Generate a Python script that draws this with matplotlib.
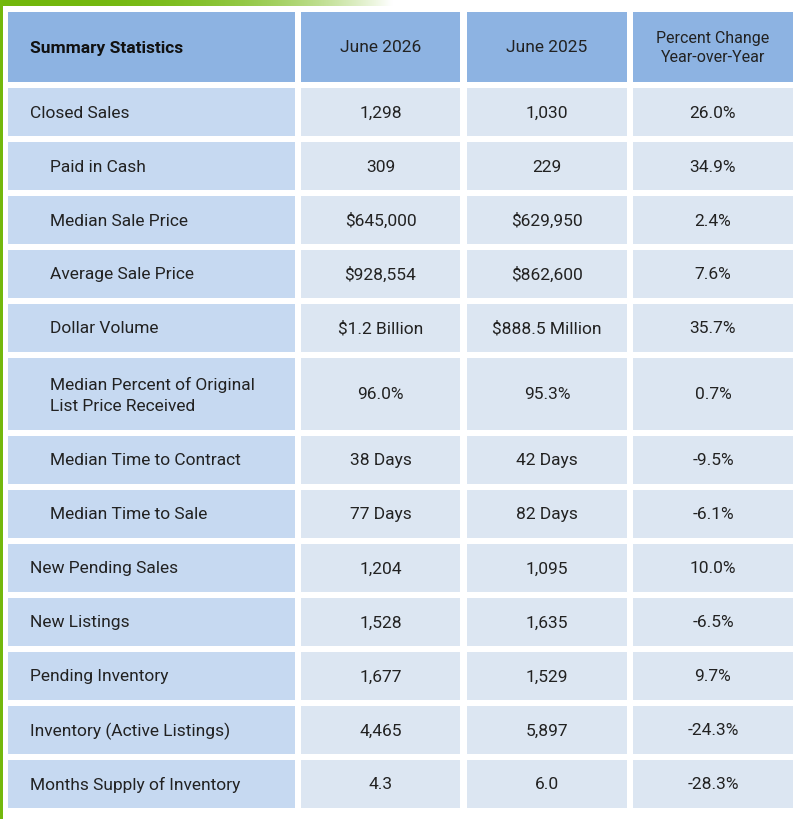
import numpy as np
import matplotlib.pyplot as plt
from matplotlib.patches import Rectangle

header = ['Summary Statistics', 'June 2026', 'June 2025', 'Percent Change\nYear-over-Year']
labels = ['Closed Sales', 'Paid in Cash', 'Median Sale Price', 'Average Sale Price',
          'Dollar Volume', 'Median Percent of Original\nList Price Received',
          'Median Time to Contract', 'Median Time to Sale', 'New Pending Sales',
          'New Listings', 'Pending Inventory', 'Inventory (Active Listings)',
          'Months Supply of Inventory']
indent = [0, 1, 1, 1, 1, 1, 1, 1, 0, 0, 0, 0, 0]
june_2026 = ['1,298', '309', '$645,000', '$928,554', '$1.2 Billion', '96.0%', '38 Days',
             '77 Days', '1,204', '1,528', '1,677', '4,465', '4.3']
june_2025 = ['1,030', '229', '$629,950', '$862,600', '$888.5 Million', '95.3%', '42 Days',
             '82 Days', '1,095', '1,635', '1,529', '5,897', '6.0']
pct_change = ['26.0%', '34.9%', '2.4%', '7.6%', '35.7%', '0.7%', '-9.5%', '-6.1%',
              '10.0%', '-6.5%', '9.7%', '-24.3%', '-28.3%']

W, H = 804, 820
fig = plt.figure(figsize=(W / 100, H / 100), dpi=100)
ax = fig.add_axes([0, 0, 1, 1])
ax.set_xlim(0, W)
ax.set_ylim(H, 0)
ax.axis('off')
plt.rcParams['font.family'] = ['Roboto', 'DejaVu Sans']

# green gradient bar at top and left edge
grad = np.linspace(0, 1, 256)[None, :]
green = np.array([0.45, 0.72, 0.05])
img = np.ones((1, 256, 3)) * (1 - grad[..., None]) * green + grad[..., None] * np.array([1, 1, 1])
img[:, :, :] = np.where(grad[..., None] < 0.7, green + (1 - green) * (grad[..., None] / 0.7) ** 3, 1)
ax.imshow(img, extent=[0, 560, 7, 0], aspect='auto', zorder=0)
ax.add_patch(Rectangle((0, 0), 3, 820, color=green, lw=0))

cols = [(8, 295), (301, 460), (467, 627), (633, 793)]
header_y = (13, 83)
row_h = [48] * 13
row_h[5] = 72
gap = 6
c_head = '#8DB3E2'
c_first = '#C6D9F1'
c_body = '#DCE6F2'
txt = '#222222'
fs = 12.5

for j, (x0, x1) in enumerate(cols):
    ax.add_patch(Rectangle((x0, header_y[0]), x1 - x0, header_y[1] - header_y[0], color=c_head, lw=0))
    ym = (header_y[0] + header_y[1]) / 2
    if j == 0:
        ax.text(x0 + 22, ym, header[j], fontsize=fs, fontweight='bold', va='center', ha='left', color='#111111')
    else:
        ax.text((x0 + x1) / 2, ym, header[j], fontsize=fs if j < 3 else 11.5, va='center', ha='center',
                color=txt, linespacing=1.3)

y = header_y[1] + gap
for i in range(len(labels)):
    h = row_h[i]
    ym = y + h / 2
    for j, (x0, x1) in enumerate(cols):
        ax.add_patch(Rectangle((x0, y), x1 - x0, h, color=c_first if j == 0 else c_body, lw=0))
    ax.text(cols[0][0] + 22 + 20 * indent[i], ym, labels[i], fontsize=fs, va='center', ha='left',
            color=txt, linespacing=1.5)
    for j, vals in enumerate([june_2026, june_2025, pct_change], start=1):
        x0, x1 = cols[j]
        ax.text((x0 + x1) / 2, ym, vals[i], fontsize=fs, va='center', ha='center', color=txt)
    y += h + gap

fig.savefig('out.png', dpi=100)
